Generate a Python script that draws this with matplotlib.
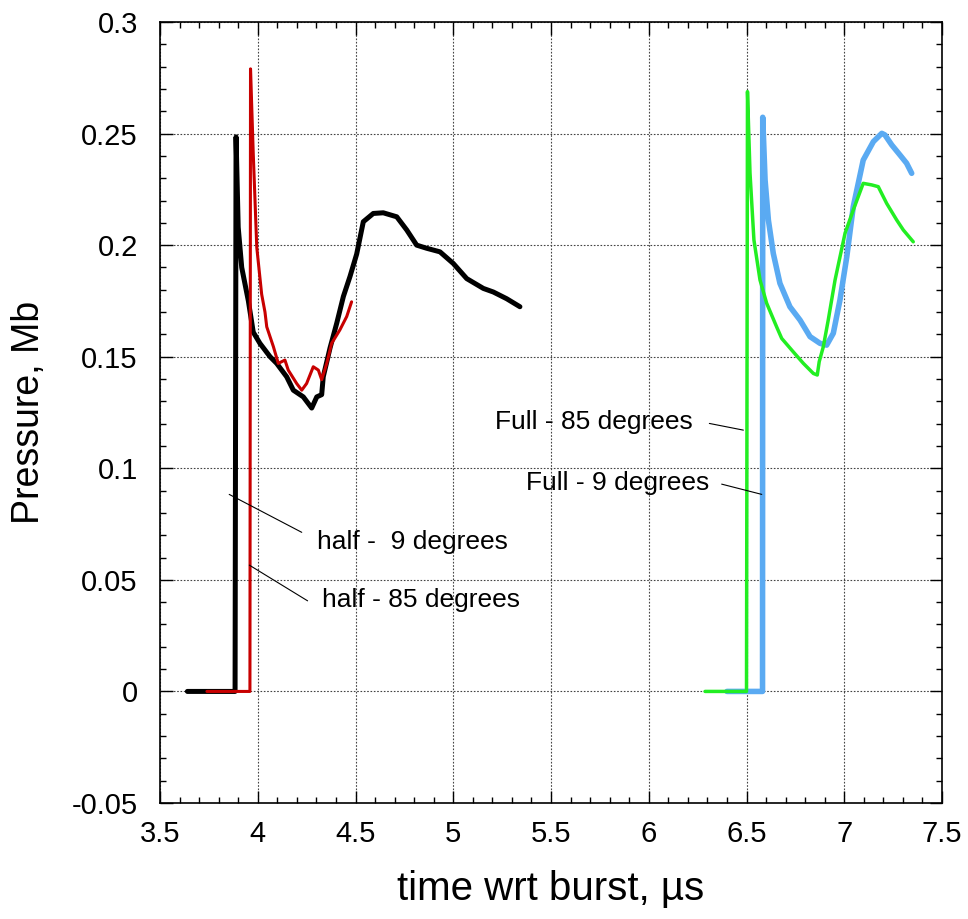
import matplotlib
matplotlib.use('Agg')
import matplotlib.pyplot as plt
from matplotlib.ticker import MultipleLocator, FuncFormatter

plt.rcParams['font.family'] = ['Liberation Sans', 'DejaVu Sans']
plt.rcParams['axes.unicode_minus'] = False

# half - 9 degrees (black)
half9_t = [3.64, 3.70, 3.80, 3.884, 3.889, 3.90, 3.918, 3.952, 3.977, 4.011, 4.063, 4.097,
           4.148, 4.182, 4.233, 4.276, 4.302, 4.327, 4.335, 4.37, 4.404, 4.438, 4.472,
           4.506, 4.54, 4.591, 4.642, 4.711, 4.762, 4.813, 4.864, 4.932, 5.0, 5.069,
           5.154, 5.205, 5.273, 5.341]
half9_p = [0.0, 0.0, 0.0, 0.0, 0.2485, 0.208, 0.190, 0.175, 0.161, 0.156, 0.150, 0.147,
           0.141, 0.135, 0.132, 0.127, 0.132, 0.133, 0.141, 0.154, 0.165, 0.177, 0.186,
           0.196, 0.2105, 0.2142, 0.2145, 0.2127, 0.2068, 0.200, 0.1986, 0.197, 0.1918,
           0.185, 0.1806, 0.179, 0.176, 0.1724]

# half - 85 degrees (red)
half85_t = [3.74, 3.85, 3.96, 3.963, 3.977, 3.995, 4.02, 4.037, 4.046, 4.08, 4.105, 4.139,
            4.156, 4.199, 4.225, 4.25, 4.284, 4.31, 4.327, 4.353, 4.378, 4.42, 4.455, 4.48]
half85_p = [0.0, 0.0, 0.0, 0.279, 0.241, 0.199, 0.178, 0.170, 0.1634, 0.1545, 0.147, 0.1485,
            0.144, 0.138, 0.135, 0.138, 0.1455, 0.144, 0.1397, 0.147, 0.156, 0.162, 0.168, 0.1746]

# Full - 9 degrees (blue)
full9_t = [6.40, 6.50, 6.582, 6.583, 6.595, 6.612, 6.637, 6.671, 6.722, 6.774, 6.825, 6.876,
           6.91, 6.944, 6.978, 7.013, 7.046, 7.097, 7.149, 7.192, 7.208, 7.243, 7.285,
           7.319, 7.345]
full9_p = [0.0, 0.0, 0.0, 0.2573, 0.2292, 0.2112, 0.1963, 0.1829, 0.1724, 0.1664, 0.159, 0.156,
           0.1552, 0.1605, 0.1754, 0.1948, 0.2172, 0.2381, 0.2464, 0.2501, 0.2494, 0.2449,
           0.2404, 0.2367, 0.2322]

# Full - 85 degrees (green)
full85_t = [6.288, 6.40, 6.500, 6.505, 6.518, 6.538, 6.569, 6.603, 6.654, 6.68, 6.739, 6.791,
            6.842, 6.862, 6.872, 6.893, 6.918, 6.953, 7.004, 7.046, 7.097, 7.14, 7.174,
            7.217, 7.268, 7.302, 7.353]
full85_p = [0.0, 0.0, 0.0, 0.2688, 0.2322, 0.2023, 0.1844, 0.174, 0.1634, 0.1582, 0.1522, 0.147,
            0.1425, 0.1418, 0.1478, 0.1545, 0.1664, 0.1844, 0.2053, 0.2157, 0.2277, 0.227,
            0.2262, 0.2187, 0.2113, 0.2068, 0.2015]

# labels: text, text anchor (left, centre), leader line start, leader line end
labels = ['half -  9 degrees', 'half - 85 degrees', 'Full - 85 degrees', 'Full - 9 degrees']
label_pos = [(4.302, 0.0671), (4.327, 0.0409), (5.214, 0.1208), (5.372, 0.0932)]
leader_a = [(3.854, 0.0883), (3.957, 0.0566), (6.310, 0.1201), (6.373, 0.0929)]
leader_b = [(4.225, 0.0713), (4.255, 0.0406), (6.484, 0.1171), (6.578, 0.0883)]

fig = plt.figure(figsize=(9.68, 9.19), dpi=100)
ax = fig.add_axes([160/968, 116/919, 782/968, 781/919])

ax.plot(half9_t, half9_p, color='black', lw=3.6, solid_capstyle='round', solid_joinstyle='round')
ax.plot(half85_t, half85_p, color='#c80000', lw=2.2, solid_capstyle='round', solid_joinstyle='round')
ax.plot(full9_t, full9_p, color='#5aaaf2', lw=4.0, solid_capstyle='round', solid_joinstyle='round')
ax.plot(full85_t, full85_p, color='#22ee22', lw=2.5, solid_capstyle='round', solid_joinstyle='round')

ax.set_xlim(3.5, 7.5)
ax.set_ylim(-0.05, 0.3)
ax.xaxis.set_major_locator(MultipleLocator(0.5))
ax.xaxis.set_minor_locator(MultipleLocator(0.1))
ax.yaxis.set_major_locator(MultipleLocator(0.05))
ax.yaxis.set_minor_locator(MultipleLocator(0.01))
ax.xaxis.set_major_formatter(FuncFormatter(lambda v, p: '%g' % round(v, 3)))
ax.yaxis.set_major_formatter(FuncFormatter(lambda v, p: '%g' % round(v, 3)))

ax.tick_params(which='both', direction='in', top=True, right=True, width=1, colors='black')
ax.tick_params(which='major', length=9, labelsize=21)
ax.tick_params(axis='y', which='major', pad=16)
ax.tick_params(axis='x', which='major', pad=12)
ax.tick_params(which='minor', length=4.5)
for s in ax.spines.values():
    s.set_linewidth(1.2)

ax.grid(True, which='major', linestyle=(0, (1.5, 1.5)), color='#444444', lw=0.8)
ax.set_axisbelow(True)

ax.set_xlabel('time wrt burst, µs', fontsize=29, labelpad=16)
ax.set_ylabel('Pressure, Mb', fontsize=27, labelpad=18)

for txt, pos, a, b in zip(labels, label_pos, leader_a, leader_b):
    ax.annotate('', xy=b, xytext=a,
                arrowprops=dict(arrowstyle='-', color='black', lw=0.8, shrinkA=0, shrinkB=0))
    ax.text(pos[0], pos[1], txt, fontsize=19, ha='left', va='center')

plt.savefig('out.png', dpi=100)
